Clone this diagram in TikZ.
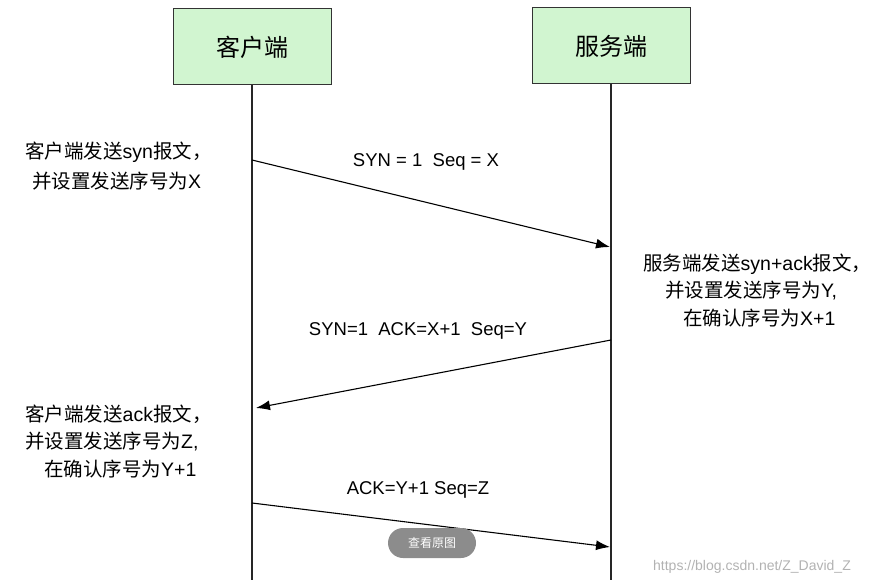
\documentclass[tikz,border=0pt]{standalone}
\usepackage{fontspec}
\setmainfont{Liberation Sans}
\newfontfamily\cjkf{Noto Sans CJK SC}
\newcommand\zh[1]{{\cjkf #1}}
\usetikzlibrary{arrows.meta}
\begin{document}
\begin{tikzpicture}[x=1pt,y=-1pt,
  box/.style={draw=black!80,line width=1pt,fill={rgb,255:red,209;green,245;blue,208},minimum width=158pt,minimum height=76pt,font=\fontsize{24}{28}\selectfont},
  life/.style={line width=1.1pt,black!85},
  msg/.style={line width=1.1pt,-{Latex[length=14pt,width=10pt]}},
  lbl/.style={font=\fontsize{18.5}{22}\selectfont,inner sep=0pt},
  note/.style={font=\fontsize{19.5}{23}\selectfont,inner sep=0pt,anchor=west}]
\useasboundingbox (0,0) rectangle (874,585);
\node[box] (c) at (252,47) {\zh{客户端}};
\node[box] (s) at (611,46) {\zh{服务端}};
\coordinate (cb) at (252,580);
\coordinate (sb) at (611,580);
\draw[life] (c.south) -- (cb);
\draw[life] (s.south) -- (sb);
\coordinate (a1) at (252,160); \coordinate (b1) at (610,247);
\coordinate (a2) at (611,340); \coordinate (b2) at (256,408);
\coordinate (a3) at (252,503); \coordinate (b3) at (610,547);
\draw[msg] (a1) -- (b1);
\draw[msg] (a2) -- (b2);
\draw[msg] (a3) -- (b3);
\node[lbl] (l1) at (426,162) {SYN = 1\ \ Seq = X};
\node[lbl] (l2) at (418,331) {SYN=1\ \ ACK=X+1\ \ Seq=Y};
\node[lbl] (l3) at (418,490) {ACK=Y+1 Seq=Z};
\node[note] (n1) at (25,152) {\zh{客户端发送}syn\zh{报文，}};
\node[note] (n2) at (32,181) {\zh{并设置发送序号为}X};
\node[note] (n3) at (643,264) {\zh{服务端发送}syn+ack\zh{报文，}};
\node[note] (n4) at (665,291) {\zh{并设置发送序号为}Y,};
\node[note] (n5) at (683,318) {\zh{在确认序号为}X+1};
\node[note] (n6) at (25,414) {\zh{客户端发送}ack\zh{报文，}};
\node[note] (n7) at (25,442) {\zh{并设置发送序号为}Z,};
\node[note] (n8) at (44,469) {\zh{在确认序号为}Y+1};
\node[fill=black!45,rounded corners=15pt,minimum width=88pt,minimum height=30pt,text=white,font=\fontsize{12}{14}\selectfont] (btn) at (432,543) {\zh{查看原图}};
\node[text=black!30,font=\fontsize{14}{16}\selectfont,inner sep=0pt] (url) at (752,567) {https://blog.csdn.net/Z\_David\_Z};
\end{tikzpicture}
\end{document}
